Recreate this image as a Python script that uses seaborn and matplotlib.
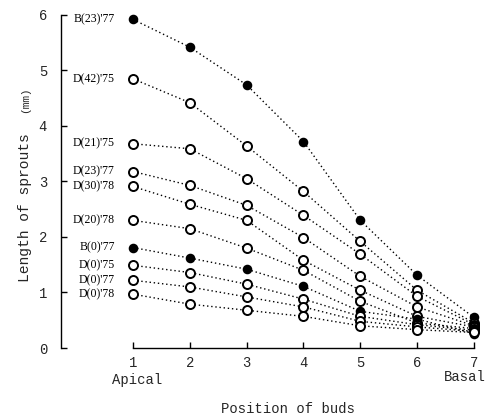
import matplotlib
matplotlib.use("Agg")
import matplotlib.pyplot as plt
import seaborn as sns
import pandas as pd

positions = [1, 2, 3, 4, 5, 6, 7]
series_labels = ["B(23)'77", "D(42)'75", "D(21)'75", "D(23)'77", "D(30)'78",
                 "D(20)'78", "B(0)'77", "D(0)'75", "D(0)'77", "D(0)'78"]
filled = [True, False, False, False, False, False, True, False, False, False]
b23_77 = [5.92, 5.42, 4.74, 3.72, 2.30, 1.31, 0.55]
d42_75 = [4.85, 4.42, 3.64, 2.82, 1.92, 1.04, 0.45]
d21_75 = [3.68, 3.59, 3.05, 2.39, 1.69, 0.93, 0.42]
d23_77 = [3.18, 2.93, 2.57, 1.99, 1.29, 0.74, 0.40]
d30_78 = [2.91, 2.59, 2.30, 1.58, 1.04, 0.57, 0.38]
d20_78 = [2.30, 2.15, 1.80, 1.40, 0.84, 0.45, 0.35]
b0_77 = [1.81, 1.62, 1.42, 1.11, 0.66, 0.52, 0.26]
d0_75 = [1.49, 1.36, 1.15, 0.88, 0.57, 0.42, 0.32]
d0_77 = [1.22, 1.10, 0.92, 0.74, 0.48, 0.38, 0.30]
d0_78 = [0.97, 0.79, 0.68, 0.57, 0.40, 0.33, 0.28]
values = [b23_77, d42_75, d21_75, d23_77, d30_78, d20_78, b0_77, d0_75, d0_77, d0_78]
y_ticks = [0, 1, 2, 3, 4, 5, 6]

sns.set_theme(style="white")
mono = "Liberation Mono"
serif = "Liberation Serif"

fig = plt.figure(figsize=(4.93, 4.19), dpi=100)
W, H = 493, 419
ax = fig.add_axes([61 / W, (419 - 348) / H, 419 / W, 336 / H])

for lab, vals, fill in zip(series_labels, values, filled):
    df = pd.DataFrame({"pos": positions, "len": vals})
    sns.lineplot(data=df, x="pos", y="len", ax=ax, color="black",
                 linestyle=(0, (1, 2)), linewidth=1.0, marker="o",
                 markersize=5.5 if fill else 6.5, markeredgewidth=1.4,
                 markeredgecolor="black",
                 markerfacecolor="black" if fill else "white", zorder=3)
    ax.text(0.68, vals[0], lab, ha="right", va="center", fontsize=8.5,
            family=serif, color="black")

ax.set_xlim(-0.267, 7.106)
ax.set_ylim(0, 6.054)
ax.spines["top"].set_visible(False)
ax.spines["right"].set_visible(False)
ax.spines["left"].set_bounds(0, 6)
ax.spines["bottom"].set_bounds(1, 7)
for s in ("left", "bottom"):
    ax.spines[s].set_color("black")
    ax.spines[s].set_linewidth(1.0)

ax.set_xticks(positions)
ax.set_xticklabels([str(p) for p in positions], family=mono, fontsize=10)
ax.set_yticks(y_ticks)
ax.set_yticklabels([str(t) for t in y_ticks], family=mono, fontsize=10)
ax.tick_params(axis="both", direction="in", length=4, width=1, color="black",
               left=True, bottom=True, pad=6)
ax.tick_params(axis="y", pad=10)

ax.set_xlabel("")
ax.set_ylabel("")
ax.grid(False)

fig.text(25 / W, 1 - 208 / H, "Length of sprouts", family=mono, fontsize=10.5,
         rotation=90, ha="center", va="center")
fig.text(25 / W, 1 - 100 / H, "(mm)", family=mono, fontsize=8,
         rotation=90, ha="center", va="center")
fig.text(112 / W, 1 - 380 / H, "Apical", family=mono, fontsize=10, ha="left", va="center")
fig.text(486 / W, 1 - 377 / H, "Basal", family=mono, fontsize=10, ha="right", va="center")
fig.text(288 / W, 1 - 409 / H, "Position of buds", family=mono, fontsize=10, ha="center", va="center")

fig.savefig("out.png", dpi=100)
